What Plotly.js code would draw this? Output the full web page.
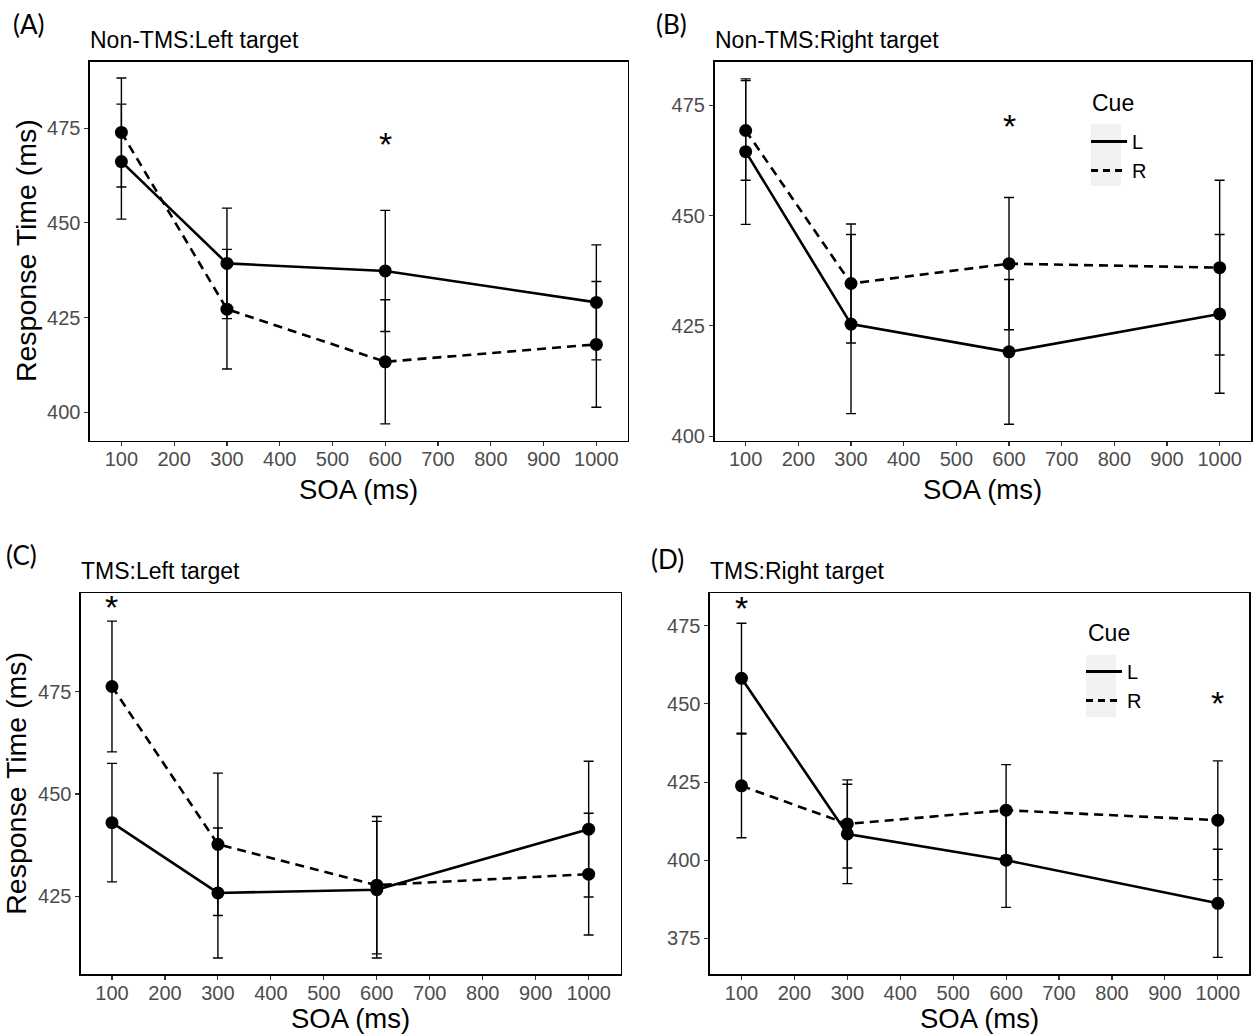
<!DOCTYPE html>
<html>
<head>
<meta charset="utf-8">
<script src="https://cdn.plot.ly/plotly-3.0.1.min.js"></script>
<style>
  html, body { margin: 0; padding: 0; background: #ffffff; }
  #chart { width: 1255px; height: 1036px; }
</style>
</head>
<body>
<div id="chart"></div>
<script>
// ---------------- data ----------------
const soa = [100, 300, 600, 1000];
const xTicks = [100, 200, 300, 400, 500, 600, 700, 800, 900, 1000];

// Panel A: Non-TMS, Left target
const aL = [466.2, 439.3, 437.3, 429.0];
const aLerr = [15.2, 14.6, 16.0, 15.2];
const aR = [473.9, 427.2, 413.3, 417.9];
const aRerr = [14.4, 15.8, 16.4, 16.6];

// Panel B: Non-TMS, Right target
const bL = [464.5, 425.4, 419.1, 427.7];
const bLerr = [16.5, 20.3, 16.4, 18.0];
const bR = [469.3, 434.6, 439.1, 438.2];
const bRerr = [11.3, 13.5, 15.0, 19.8];

// Panel C: TMS, Left target
const cL = [443.0, 425.8, 426.6, 441.4];
const cLerr = [14.5, 15.9, 16.7, 16.6];
const cR = [476.3, 437.7, 427.7, 430.4];
const cRerr = [16.0, 17.4, 16.8, 14.9];

// Panel D: TMS, Right target
const dL = [458.2, 408.4, 400.0, 386.2];
const dLerr = [17.6, 15.9, 15.1, 17.3];
const dR = [423.8, 411.6, 416.0, 412.8];
const dRerr = [16.6, 14.1, 14.6, 19.0];

const yTicksA = [400, 425, 450, 475];
const yTicksB = [400, 425, 450, 475];
const yTicksC = [425, 450, 475];
const yTicksD = [375, 400, 425, 450, 475];

const panelLabels = ['(A)', '(B)', '(C)', '(D)'];
const panelTitles = ['Non-TMS:Left target', 'Non-TMS:Right target', 'TMS:Left target', 'TMS:Right target'];
const cueNames = ['L', 'R'];
const legendTitle = 'Cue';

// significance markers: [panel, soa, y]
const starPanel = [1, 2, 3, 4, 4];
const starX = [600, 600, 100, 100, 1000];
const starY = [471.9, 471.3, 496.7, 482.0, 451.7];

// ---------------- layout helpers ----------------
const W = 1255, H = 1036;
const FONT = '"Liberation Sans", Arial, sans-serif';
const px2x = p => p / W;
const px2y = p => 1 - p / H;

const boxes = [
  {l: 90,  r: 627.5, t: 61.7,  b: 440.5},
  {l: 714.5, r: 1251, t: 61.7,  b: 440.5},
  {l: 81,  r: 620.7, t: 593.3, b: 974.3},
  {l: 710, r: 1249.3, t: 593.3, b: 974.3}
];
const yRanges = [[392.5, 492.6], [399.0, 484.9], [405.9, 499.1], [363.5, 485.4]];
const xRanges = [[40.5, 1059], [40.8, 1059.5], [41.5, 1060.5], [40.5, 1059.5]];
const yTickSets = [yTicksA, yTicksB, yTicksC, yTicksD];

const panels = [
  {L: aL, Le: aLerr, R: aR, Re: aRerr},
  {L: bL, Le: bLerr, R: bR, Re: bRerr},
  {L: cL, Le: cLerr, R: cR, Re: cRerr},
  {L: dL, Le: dLerr, R: dR, Re: dRerr}
];

const traces = [];
panels.forEach((p, i) => {
  const xa = i === 0 ? 'x' : 'x' + (i + 1);
  const ya = i === 0 ? 'y' : 'y' + (i + 1);
  [['L', p.L, p.Le, 'solid'], ['R', p.R, p.Re, '9px,6px']].forEach(([nm, vals, err, dash]) => {
    traces.push({
      type: 'scatter', mode: 'lines+markers',
      x: soa, y: vals, xaxis: xa, yaxis: ya,
      name: nm, showlegend: false,
      line: {color: '#000000', width: 2.6, dash: dash},
      marker: {color: '#000000', size: 13},
      error_y: {type: 'data', array: err, visible: true, color: '#000000', thickness: 1.4, width: 5},
      hoverinfo: 'x+y'
    });
  });
});

// legend-only traces for panels B and D
[['x2', 'y2', 'legend'], ['x4', 'y4', 'legend2']].forEach(([xa, ya, lg]) => {
  cueNames.forEach((nm, k) => {
    traces.push({
      type: 'scatter', mode: 'lines', x: [null], y: [null], xaxis: xa, yaxis: ya,
      name: nm, legend: lg, legendgroup: lg + nm, showlegend: true,
      line: {color: '#000000', width: 3, dash: k === 0 ? 'solid' : '7px,5px'}
    });
  });
});

const layout = {
  width: W, height: H,
  margin: {l: 0, r: 0, t: 0, b: 0},
  paper_bgcolor: '#ffffff', plot_bgcolor: '#ffffff',
  font: {family: FONT, color: '#000000'},
  showlegend: true,
  annotations: [],
  shapes: []
};

boxes.forEach((b, i) => {
  const sfx = i === 0 ? '' : String(i + 1);
  layout['xaxis' + sfx] = {
    domain: [px2x(b.l), px2x(b.r)],
    anchor: 'y' + sfx,
    range: xRanges[i],
    tickvals: xTicks, ticktext: xTicks.map(String),
    showgrid: false, zeroline: false,
    showline: true, mirror: true, linecolor: '#000000', linewidth: 1.6,
    ticks: 'outside', ticklen: 4, tickwidth: 1.1, tickcolor: '#333333',
    ticklabelstandoff: -4,
    tickfont: {family: FONT, size: 20, color: '#4d4d4d'},
    fixedrange: true
  };
  layout['yaxis' + sfx] = {
    domain: [px2y(b.b), px2y(b.t)],
    anchor: 'x' + sfx,
    range: yRanges[i],
    tickvals: yTickSets[i], ticktext: yTickSets[i].map(String),
    showgrid: false, zeroline: false,
    showline: true, mirror: true, linecolor: '#000000', linewidth: 1.6,
    ticks: 'outside', ticklen: 4, tickwidth: 1.1, tickcolor: '#333333',
    tickfont: {family: FONT, size: 20, color: '#4d4d4d'},
    fixedrange: true
  };
});

// panel letters & titles
const letterPos = [[11, 24], [654, 24], [4, 555], [649, 559]];
panelLabels.forEach((t, i) => {
  layout.annotations.push({
    text: t, xref: 'paper', yref: 'paper', x: px2x(letterPos[i][0]), y: px2y(letterPos[i][1]),
    xanchor: 'left', yanchor: 'middle', showarrow: false,
    font: {family: 'Lato, "Open Sans", sans-serif', size: 26, color: '#000000'}
  });
  layout.annotations.push({
    text: panelTitles[i], xref: 'paper', yref: 'paper',
    x: px2x(boxes[i].l - 2), y: px2y(boxes[i].t - 22),
    xanchor: 'left', yanchor: 'middle', showarrow: false,
    font: {family: FONT, size: 23, color: '#000000'}
  });
  layout.annotations.push({
    text: 'SOA (ms)', xref: 'paper', yref: 'paper',
    x: px2x((boxes[i].l + boxes[i].r) / 2), y: px2y(Math.min(boxes[i].b + 66, H)),
    xanchor: 'center', yanchor: 'bottom', showarrow: false,
    font: {family: FONT, size: 27.5, color: '#000000'}
  });
});

// y-axis titles (left panels only)
[[0, 26], [2, 16]].forEach(([i, xc]) => {
  layout.annotations.push({
    text: 'Response Time (ms)', xref: 'paper', yref: 'paper',
    x: px2x(xc), y: px2y((boxes[i].t + boxes[i].b) / 2),
    xanchor: 'center', yanchor: 'middle', textangle: -90, showarrow: false,
    font: {family: FONT, size: 28.5, color: '#000000'}
  });
});

// significance stars
starPanel.forEach((p, k) => {
  layout.annotations.push({
    text: '*', xref: p === 1 ? 'x' : 'x' + p, yref: p === 1 ? 'y' : 'y' + p,
    x: starX[k], y: starY[k], xanchor: 'center', yanchor: 'middle', yshift: -4,
    showarrow: false, font: {family: FONT, size: 34, color: '#000000'}
  });
});

// legend titles (as text) and legends
[[1091, 103], [1087, 633]].forEach(([x, y]) => {
  layout.annotations.push({
    text: legendTitle, xref: 'paper', yref: 'paper', x: px2x(x - 1), y: px2y(y),
    xanchor: 'left', yanchor: 'middle', showarrow: false,
    font: {family: FONT, size: 23, color: '#000000'}
  });
});
const legendCommon = {
  font: {family: FONT, size: 20, color: '#000000'},
  bgcolor: 'rgba(0,0,0,0)', borderwidth: 0,
  xanchor: 'left', yanchor: 'top', itemclick: false, itemdoubleclick: false,
  tracegroupgap: 0, itemwidth: 36
};
layout.legend = Object.assign({}, legendCommon, {x: px2x(1086), y: px2y(122)});
layout.legend2 = Object.assign({}, legendCommon, {x: px2x(1081), y: px2y(652)});

// grey key backgrounds
[[1091, 1121, 124, 186], [1086, 1116, 655, 717]].forEach(([x0, x1, y0, y1]) => {
  layout.shapes.push({
    type: 'rect', xref: 'paper', yref: 'paper', layer: 'below',
    x0: px2x(x0), x1: px2x(x1), y0: px2y(y1), y1: px2y(y0),
    fillcolor: '#f2f2f2', line: {width: 0}
  });
});

Plotly.newPlot('chart', traces, layout, {displayModeBar: false, staticPlot: true});
</script>
</body>
</html>
